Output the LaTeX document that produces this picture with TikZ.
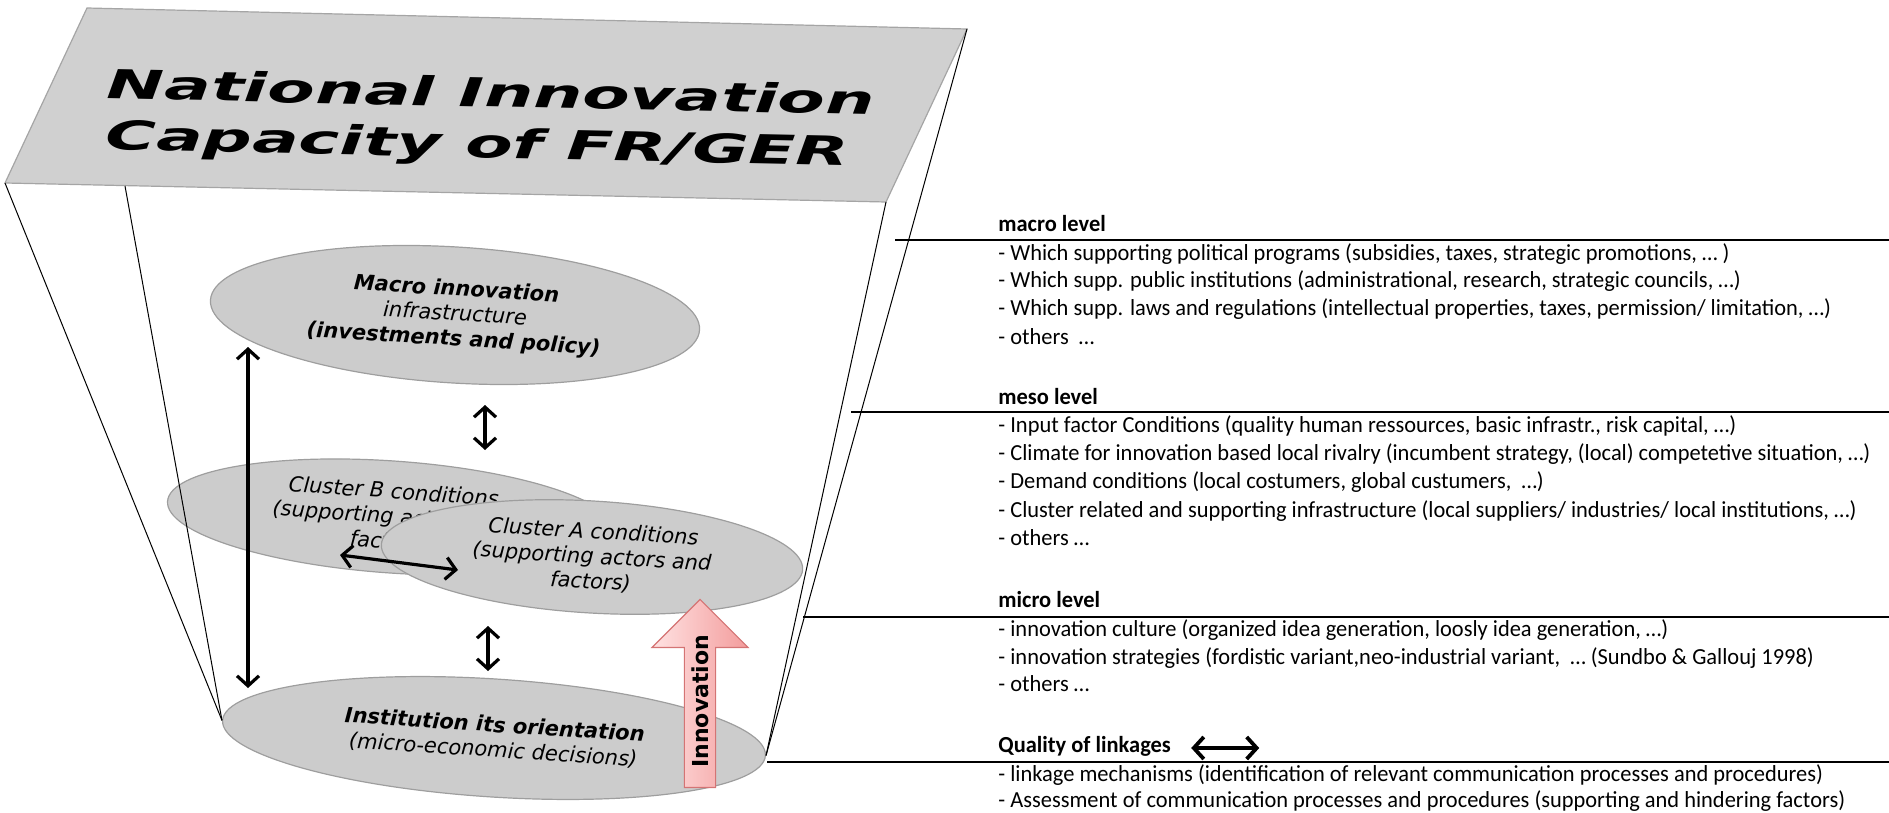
\documentclass[tikz,border=0pt]{standalone}
\usepackage{fontspec}
\usetikzlibrary{shapes.geometric,shapes.arrows,arrows.meta}

\newfontfamily\notefont[FakeStretch=0.975]{Carlito}
\newfontfamily\ovalfont{DejaVu Sans}

\definecolor{platefill}{RGB}{208,208,208}
\definecolor{plateedge}{RGB}{165,165,165}
\definecolor{ovalfill}{RGB}{204,204,204}
\definecolor{ovaledge}{RGB}{158,158,158}
\definecolor{pinklight}{RGB}{255,226,226}
\definecolor{pinkdark}{RGB}{243,156,156}
\definecolor{pinkedge}{RGB}{212,116,116}

\tikzset{
  oval/.style={ellipse, draw=ovaledge, fill=ovalfill, line width=0.6pt,
    inner sep=0pt, align=center,
    font=\ovalfont\itshape\fontsize{10.5}{12.5}\selectfont},
  funnel/.style={line width=0.5pt},
  linkarrow/.style={line width=1.6pt,
    {Straight Barb[length=5pt,width=11pt]}-{Straight Barb[length=5pt,width=11pt]}},
  lvlhead/.style={anchor=west, inner sep=0pt, text height=1.6ex, text depth=.5ex,
    font=\notefont\bfseries\fontsize{11.5}{14}\selectfont},
  lvlitem/.style={lvlhead, font=\notefont\fontsize{11.5}{14}\selectfont},
  levelrule/.style={line width=0.6pt},
}

\begin{document}
\begin{tikzpicture}[x=0.5pt, y=-0.5pt]
\useasboundingbox (0,0) rectangle (1889,813);

% top plate
\coordinate (pTL) at (87,8);
\coordinate (pTR) at (967,29);
\coordinate (pBR) at (886,202);
\coordinate (pBL) at (5,183);
\coordinate (pIn) at (125,186);
\filldraw[fill=platefill, draw=plateedge, line width=0.6pt]
  (pTL) -- (pTR) -- (pBR) -- (pBL) -- cycle;
\node[anchor=west, inner sep=0pt, rotate=-1.2,
  font=\ovalfont\bfseries\itshape\fontsize{34.5}{44}\selectfont] (title) at (106,114)
  {\scalebox{1}[0.58]{\begin{tabular}{@{}l@{}}National Innovation\\Capacity of FR/GER\end{tabular}}};

% the four levels
\node[oval, minimum width=245pt, minimum height=68pt, rotate=-3.5] (macro) at (455,315)
  {\textbf{Macro innovation}\\infrastructure\\\textbf{(investments and policy)}};
\node[oval, minimum width=225pt, minimum height=56pt, rotate=-4] (clusterB) at (392,517)
  {Cluster B conditions\\(supporting actors and\\factors)};
\node[oval, minimum width=211pt, minimum height=56pt, rotate=-3.4] (clusterA) at (592,557)
  {Cluster A conditions\\(supporting actors and\\factors)};
\node[oval, minimum width=272pt, minimum height=59pt, rotate=-3.7] (inst) at (494,738)
  {\textbf{Institution its orientation}\\(micro-economic decisions)};

% funnel
\draw[funnel] (pBL) -- (inst.west);
\draw[funnel] (pIn) -- (inst.west);
\draw[funnel] (pTR) -- (inst.east);
\draw[funnel] (pBR) -- (inst.east);

% linkages
\coordinate (macroLow) at (248,347);
\coordinate (instHigh) at (248,688);
\coordinate (macroUnder) at (485,405);
\coordinate (bOver) at (485,450);
\coordinate (aUnder) at (488,626);
\coordinate (instOver) at (488,671);
\coordinate (bRight) at (340,555);
\coordinate (aLeft) at (458,570);
\draw[linkarrow] (macroLow) -- (instHigh);
\draw[linkarrow] (macroUnder) -- (bOver);
\draw[linkarrow] (aUnder) -- (instOver);
\draw[linkarrow] (bRight) -- (aLeft);

\node[single arrow, rotate=90, anchor=tail, draw=pinkedge, line width=0.6pt,
  left color=pinklight, right color=pinkdark,
  minimum height=94pt, minimum width=48pt, single arrow head extend=11.5pt,
  inner sep=1pt, font=\ovalfont\bfseries\fontsize{11}{13}\selectfont] (innov) at (700,788)
  {Innovation};

% level notes
\node[lvlhead] (macroHead) at (998,227) {macro level};
\draw[levelrule] (895,240) -- (1889,240);
\node[lvlitem] (macroA) at (998,256) {- Which supporting political programs (subsidies, taxes, strategic promotions, … )};
\node[lvlitem] (macroB) at (998,283) {- Which supp. public institutions (administrational, research, strategic councils, …)};
\node[lvlitem] (macroC) at (998,311) {- Which supp. laws and regulations (intellectual properties, taxes, permission/ limitation, …)};
\node[lvlitem] (macroD) at (998,340) {- others~ …};

\node[lvlhead] (mesoHead) at (998,400) {meso level};
\draw[levelrule] (851,412) -- (1889,412);
\node[lvlitem] (mesoA) at (998,428) {- Input factor Conditions (quality human ressources, basic infrastr., risk capital, …)};
\node[lvlitem] (mesoB) at (998,456) {- Climate for innovation based local rivalry (incumbent strategy, (local) competetive situation, …)};
\node[lvlitem] (mesoC) at (998,484) {- Demand conditions (local costumers, global custumers,~ …)};
\node[lvlitem] (mesoD) at (998,513) {- Cluster related and supporting infrastructure (local suppliers/ industries/ local institutions, …)};
\node[lvlitem] (mesoE) at (998,541) {- others …};

\node[lvlhead] (microHead) at (998,603) {micro level};
\draw[levelrule] (803,617) -- (1889,617);
\node[lvlitem] (microA) at (998,632) {- innovation culture (organized idea generation, loosly idea generation, …)};
\node[lvlitem] (microB) at (998,660) {- innovation strategies (fordistic variant,neo-industrial variant,~ … (Sundbo \& Gallouj 1998)};
\node[lvlitem] (microC) at (998,687) {- others …};

\node[lvlhead] (qualHead) at (998,748) {Quality of linkages};
\draw[linkarrow, line width=1.9pt] ([xshift=10pt]qualHead.east) -- ++(68,0);
\draw[levelrule] (767,762) -- (1889,762);
\node[lvlitem] (qualA) at (998,777) {- linkage mechanisms (identification of relevant communication processes and procedures)};
\node[lvlitem] (qualB) at (998,803) {- Assessment of communication processes and procedures (supporting and hindering factors)};
\end{tikzpicture}
\end{document}
